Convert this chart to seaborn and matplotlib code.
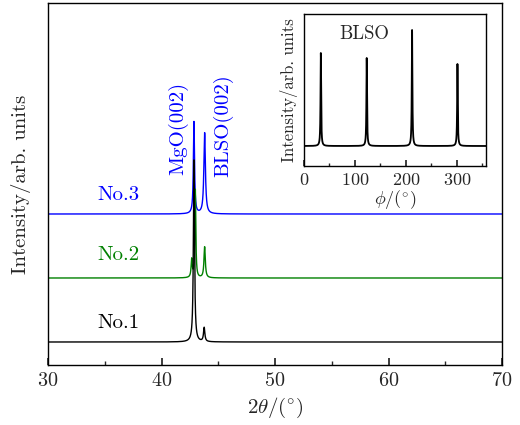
import numpy as np
import pandas as pd
import matplotlib
matplotlib.use("Agg")
import matplotlib.pyplot as plt
import seaborn as sns
from matplotlib.ticker import MultipleLocator

sns.set_theme(style="ticks")
plt.rcParams["font.family"] = ["cmr10", "DejaVu Serif"]
plt.rcParams["mathtext.fontset"] = "cm"
plt.rcParams["axes.formatter.use_mathtext"] = True

# ---- data ----
samples = ["No.1", "No.2", "No.3"]
colors = ["black", "#008000", "#0000ff"]
offsets = [23, 87, 151]
# peak positions (2theta), heights, half-widths per sample
peak_pos = [[42.86, 43.76], [42.66, 42.98, 43.80], [42.86, 43.80]]
peak_h = [[182, 14], [18, 88, 31], [92, 81]]
peak_w = [[0.06, 0.07], [0.06, 0.05, 0.07], [0.06, 0.08]]

phi_pos = [33, 123, 212, 301]
phi_h = [93, 88, 116, 82]
phi_w = [0.7, 0.7, 0.7, 0.7]
phi_base = 20


def profile(x, pos, h, w):
    y = np.zeros_like(x)
    for p, a, g in zip(pos, h, w):
        y += a / (1 + ((x - p) / g) ** 2)
    return y


fig = plt.figure(figsize=(5.2, 4.25), dpi=100)
ax = fig.add_axes([48 / 520, 60 / 425, 454 / 520, 362 / 425])

x = np.linspace(30, 70, 16001)
order = [2, 1, 0]
for i in order:
    s, c, off = samples[i], colors[i], offsets[i]
    y = off + profile(x, peak_pos[i], peak_h[i], peak_w[i])
    df = pd.DataFrame({"x": x, "y": y})
    sns.lineplot(data=df, x="x", y="y", ax=ax, color=c, lw=1.0, estimator=None)

ax.set_xlim(30, 70)
ax.set_ylim(0, 362)
ax.xaxis.set_major_locator(MultipleLocator(10))
ax.xaxis.set_minor_locator(MultipleLocator(5))
ax.tick_params(axis="x", which="both", direction="in", labelsize=14.5, top=False, pad=5)
ax.tick_params(axis="x", which="major", length=5)
ax.tick_params(axis="x", which="minor", length=3)
ax.set_yticks([])
ax.set_xlabel(r"$2\theta/(^{\circ})$", fontsize=15, labelpad=4)
ax.set_ylabel("Intensity/arb. units", fontsize=15, labelpad=12)
for sp in ax.spines.values():
    sp.set_linewidth(1.0)
    sp.set_color("black")

label_y = [42, 110, 170]
for s, c, ly in zip(samples, colors, label_y):
    ax.text(36.2, ly, s, color=c, fontsize=15, ha="center", va="center")

ax.text(41.45, 190, "MgO(002)", rotation=90, color="#0000ff", fontsize=15,
        ha="center", va="bottom")
ax.text(45.4, 188, "BLSO(002)", rotation=90, color="#0000ff", fontsize=15,
        ha="center", va="bottom")

# ---- inset ----
ins = fig.add_axes([304 / 520, 259 / 425, 182 / 520, 152 / 425])
xp = np.linspace(0, 360, 7201)
yp = phi_base + profile(xp, phi_pos, phi_h, phi_w)
sns.lineplot(x=xp, y=yp, ax=ins, color="black", lw=1.3, estimator=None)
ins.set_xlim(0, 357)
ins.set_ylim(0, 152)
ins.xaxis.set_major_locator(MultipleLocator(100))
ins.xaxis.set_minor_locator(MultipleLocator(50))
ins.tick_params(axis="x", which="both", direction="in", labelsize=13, top=False, pad=4)
ins.tick_params(axis="x", which="major", length=4)
ins.tick_params(axis="x", which="minor", length=2.5)
ins.set_yticks([])
ins.set_xlabel(r"$\phi/(^{\circ})$", fontsize=13, labelpad=0)
ins.set_ylabel("Intensity/arb. units", fontsize=12, labelpad=4)
ins.text(118, 132, "BLSO", fontsize=13.5, ha="center", va="center")
for sp in ins.spines.values():
    sp.set_linewidth(1.0)
    sp.set_color("black")

fig.savefig("out.png", dpi=100)
